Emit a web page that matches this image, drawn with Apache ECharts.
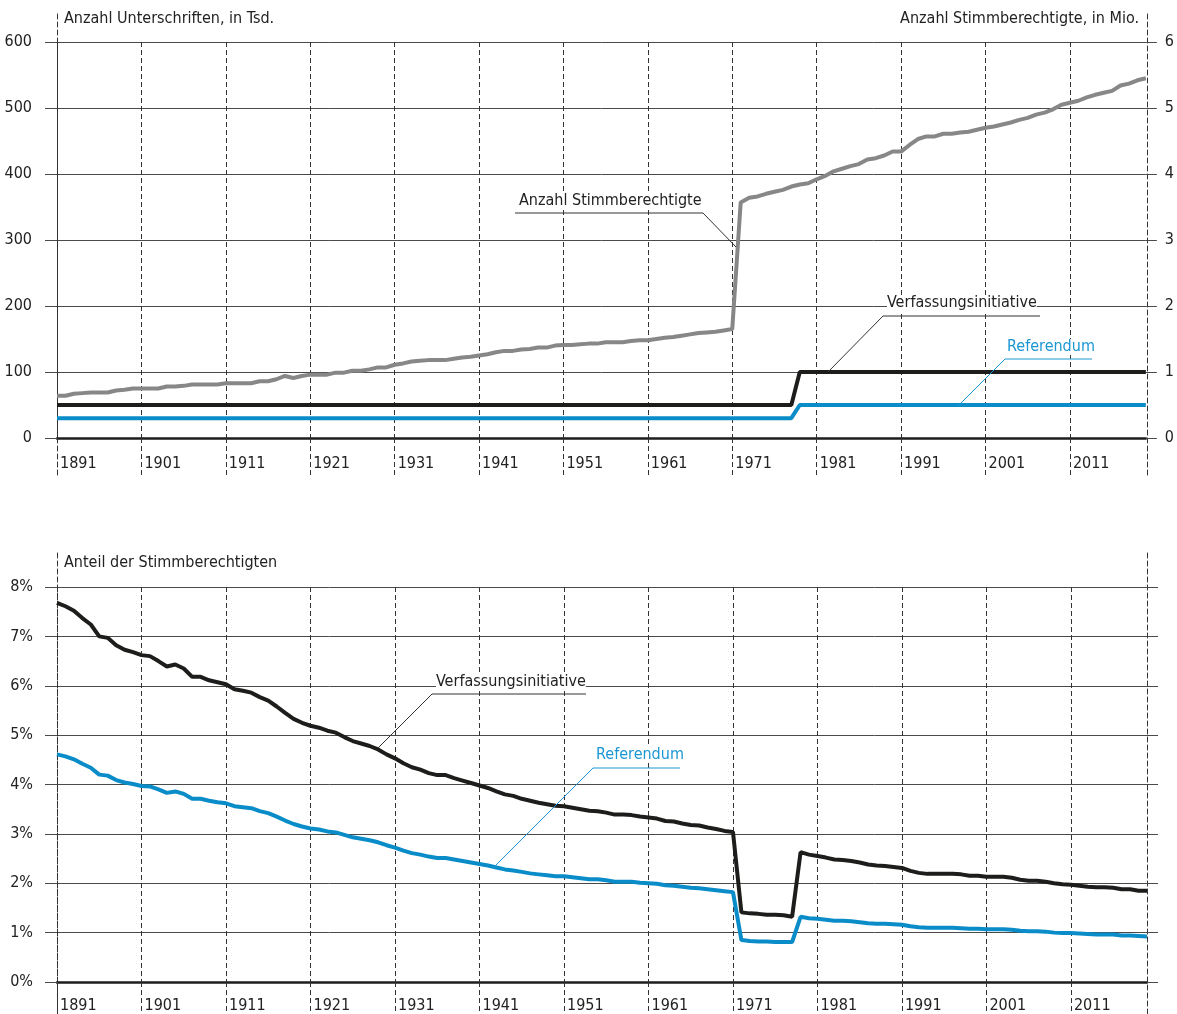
<!DOCTYPE html>
<html>
<head>
<meta charset="utf-8">
<script src="https://cdn.jsdelivr.net/npm/echarts@6/dist/echarts.min.js"></script>
<style>
html,body{margin:0;padding:0;background:#fff;}
#chart{width:1177px;height:1014px;}
</style>
</head>
<body>
<div id="chart"></div>
<script>
// ---------- DATA ----------
const years = [];
for (let y = 1891; y <= 2020; y++) years.push(String(y));

// Anzahl Stimmberechtigte, in Mio. (1891..2020)
const voters = [
  0.64,0.64,0.67,0.68,0.69,0.69,0.69,0.72,0.73,0.75,
  0.75,0.75,0.75,0.78,0.78,0.79,0.81,0.81,0.81,0.81,
  0.83,0.83,0.83,0.83,0.86,0.86,0.89,0.94,0.91,0.94,
  0.96,0.96,0.96,0.99,0.99,1.02,1.02,1.04,1.07,1.07,
  1.11,1.13,1.16,1.17,1.18,1.18,1.18,1.20,1.22,1.23,
  1.25,1.27,1.30,1.32,1.32,1.34,1.35,1.37,1.37,1.40,
  1.41,1.41,1.42,1.43,1.43,1.45,1.45,1.45,1.47,1.48,
  1.48,1.50,1.52,1.53,1.55,1.57,1.59,1.60,1.61,1.63,
  1.65,3.57,3.64,3.66,3.70,3.73,3.76,3.81,3.84,3.86,
  3.92,3.97,4.04,4.08,4.12,4.15,4.22,4.24,4.28,4.34,
  4.34,4.44,4.53,4.57,4.57,4.61,4.61,4.63,4.64,4.67,
  4.70,4.72,4.75,4.78,4.82,4.85,4.90,4.93,4.98,5.05,
  5.08,5.11,5.16,5.20,5.23,5.26,5.34,5.37,5.42,5.45
];

// Anzahl Unterschriften, in Tsd. – Verfassungsinitiative
const sigInitiative = [
  50,50,50,50,50,50,50,50,50,50,
  50,50,50,50,50,50,50,50,50,50,
  50,50,50,50,50,50,50,50,50,50,
  50,50,50,50,50,50,50,50,50,50,
  50,50,50,50,50,50,50,50,50,50,
  50,50,50,50,50,50,50,50,50,50,
  50,50,50,50,50,50,50,50,50,50,
  50,50,50,50,50,50,50,50,50,50,
  50,50,50,50,50,50,50,50,100,100,
  100,100,100,100,100,100,100,100,100,100,
  100,100,100,100,100,100,100,100,100,100,
  100,100,100,100,100,100,100,100,100,100,
  100,100,100,100,100,100,100,100,100,100
];

// Anzahl Unterschriften, in Tsd. – Referendum
const sigReferendum = [
  30,30,30,30,30,30,30,30,30,30,
  30,30,30,30,30,30,30,30,30,30,
  30,30,30,30,30,30,30,30,30,30,
  30,30,30,30,30,30,30,30,30,30,
  30,30,30,30,30,30,30,30,30,30,
  30,30,30,30,30,30,30,30,30,30,
  30,30,30,30,30,30,30,30,30,30,
  30,30,30,30,30,30,30,30,30,30,
  30,30,30,30,30,30,30,30,50,50,
  50,50,50,50,50,50,50,50,50,50,
  50,50,50,50,50,50,50,50,50,50,
  50,50,50,50,50,50,50,50,50,50,
  50,50,50,50,50,50,50,50,50,50
];

// Anteil der Stimmberechtigten (%) – Verfassungsinitiative
const shareInitiative = [
  7.68,7.61,7.52,7.37,7.24,7.00,6.97,6.82,6.73,6.68,
  6.62,6.60,6.50,6.39,6.43,6.35,6.18,6.18,6.11,6.07,
  6.03,5.93,5.90,5.86,5.77,5.70,5.58,5.45,5.33,5.25,
  5.19,5.15,5.09,5.05,4.96,4.88,4.83,4.78,4.71,4.61,
  4.53,4.43,4.35,4.30,4.23,4.19,4.19,4.13,4.08,4.03,
  3.98,3.93,3.86,3.80,3.77,3.71,3.67,3.63,3.60,3.57,
  3.56,3.53,3.50,3.47,3.46,3.43,3.39,3.39,3.38,3.35,
  3.33,3.31,3.26,3.25,3.21,3.18,3.17,3.13,3.10,3.06,
  3.04,1.41,1.39,1.38,1.36,1.36,1.35,1.32,2.63,2.58,
  2.55,2.52,2.48,2.47,2.45,2.42,2.38,2.36,2.35,2.33,
  2.31,2.25,2.21,2.19,2.19,2.19,2.19,2.18,2.15,2.15,
  2.13,2.13,2.13,2.11,2.07,2.05,2.05,2.03,2.00,1.98,
  1.97,1.95,1.93,1.92,1.92,1.91,1.88,1.88,1.85,1.85
];

// Anteil der Stimmberechtigten (%) – Referendum
const shareReferendum = [
  4.61,4.57,4.51,4.42,4.34,4.20,4.18,4.09,4.04,4.01,
  3.97,3.96,3.90,3.83,3.86,3.81,3.71,3.71,3.67,3.64,
  3.62,3.56,3.54,3.52,3.46,3.42,3.35,3.27,3.20,3.15,
  3.11,3.09,3.05,3.03,2.98,2.93,2.90,2.87,2.83,2.77,
  2.72,2.66,2.61,2.58,2.54,2.51,2.51,2.48,2.45,2.42,
  2.39,2.36,2.32,2.28,2.26,2.23,2.20,2.18,2.16,2.14,
  2.14,2.12,2.10,2.08,2.08,2.06,2.03,2.03,2.03,2.01,
  2.00,1.99,1.96,1.95,1.93,1.91,1.90,1.88,1.86,1.84,
  1.82,0.85,0.83,0.82,0.82,0.81,0.81,0.81,1.32,1.29,
  1.28,1.26,1.24,1.24,1.23,1.21,1.19,1.18,1.18,1.17,
  1.16,1.13,1.11,1.10,1.10,1.10,1.10,1.09,1.08,1.08,
  1.07,1.07,1.07,1.06,1.04,1.03,1.03,1.02,1.00,0.99,
  0.99,0.98,0.97,0.96,0.96,0.96,0.94,0.94,0.93,0.92
];

// ---------- STYLE ----------
const FONT = "'Liberation Sans Narrow','DejaVu Sans Condensed','Roboto Condensed','Liberation Sans',sans-serif";
const FS = 16;
const TXT = '#222';
const GRID_C = '#4a4a4a';
const DASH = [5, 3];
const DASH_C = '#333';
const BLACK = '#1d1d1b';
const GRAY = '#878787';
const BLUE = '#0a8cc8';
const BLUE_TXT = '#1a97d3';

function xCat(gridIndex, margin, tickLen) {
  return {
    gridIndex: gridIndex, type: 'category', data: years, boundaryGap: false,
    axisLine: { show: true, lineStyle: { color: BLACK, width: 2.5 } },
    axisTick: { show: true, interval: 9, length: tickLen, lineStyle: { color: DASH_C, type: DASH, width: 1 } },
    axisLabel: { show: true, interval: 9, align: 'left', margin: margin, padding: [0, 0, 0, 3],
      fontSize: FS, fontFamily: FONT, color: TXT },
    splitLine: { show: true, interval: 9, lineStyle: { color: DASH_C, type: DASH, width: 1 } }
  };
}
function edgeY(gridIndex, pos) {
  return {
    gridIndex: gridIndex, type: 'value', position: pos, min: 0, max: 1,
    axisLine: { show: true, onZero: false, lineStyle: { color: DASH_C, type: DASH, width: 1 } },
    axisTick: { show: false }, axisLabel: { show: false }, splitLine: { show: false }
  };
}
function hiddenX(gridIndex) {
  return { gridIndex: gridIndex, type: 'value', min: 0, max: 1, show: false };
}

const option = {
  animation: false,
  backgroundColor: '#fff',
  textStyle: { fontFamily: FONT },
  grid: [
    { left: 57, right: 30, top: 42, height: 396 },
    { left: 57, right: 30, top: 587, height: 398 },
    { left: 57, right: 30, top: 12, height: 463 },
    { left: 57, right: 30, top: 553, height: 461 }
  ],
  xAxis: [
    xCat(0, 18, 37),
    xCat(1, 16, 29),
    hiddenX(2),
    hiddenX(3)
  ],
  yAxis: [
    { gridIndex: 0, type: 'value', position: 'left', min: 0, max: 600, interval: 100,
      axisLine: { show: false },
      axisTick: { show: true, length: 12, lineStyle: { color: GRID_C, width: 1 } },
      axisLabel: { margin: 25, fontSize: FS, fontFamily: FONT, color: TXT },
      splitLine: { show: true, lineStyle: { color: GRID_C, width: 1 } } },
    { gridIndex: 0, type: 'value', position: 'right', min: 0, max: 6, interval: 1,
      axisLine: { show: false },
      axisTick: { show: true, length: 11, lineStyle: { color: GRID_C, width: 1 } },
      axisLabel: { margin: 19, fontSize: FS, fontFamily: FONT, color: TXT },
      splitLine: { show: false } },
    { gridIndex: 1, type: 'value', position: 'left', min: 0, max: 8, interval: 1,
      axisLine: { show: false },
      axisTick: { show: true, length: 12, lineStyle: { color: GRID_C, width: 1 } },
      axisLabel: { margin: 24, fontSize: FS, fontFamily: FONT, color: TXT, formatter: '{value}%' },
      splitLine: { show: true, lineStyle: { color: GRID_C, width: 1 } } },
    { gridIndex: 1, type: 'value', position: 'right', min: 0, max: 8, interval: 1,
      axisLine: { show: false },
      axisTick: { show: true, length: 11, lineStyle: { color: GRID_C, width: 1 } },
      axisLabel: { show: false },
      splitLine: { show: false } },
    edgeY(2, 'left'), edgeY(2, 'right'),
    edgeY(3, 'left'), edgeY(3, 'right')
  ],
  series: [
    { name: 'Anzahl Stimmberechtigte', type: 'line', xAxisIndex: 0, yAxisIndex: 1,
      data: voters, symbol: 'none', lineStyle: { color: GRAY, width: 4 }, z: 3 },
    { name: 'Referendum', type: 'line', xAxisIndex: 0, yAxisIndex: 0,
      data: sigReferendum, symbol: 'none', lineStyle: { color: BLUE, width: 4 }, z: 4 },
    { name: 'Verfassungsinitiative', type: 'line', xAxisIndex: 0, yAxisIndex: 0,
      data: sigInitiative, symbol: 'none', lineStyle: { color: BLACK, width: 4 }, z: 5 },
    { name: 'Referendum %', type: 'line', xAxisIndex: 1, yAxisIndex: 2,
      data: shareReferendum, symbol: 'none', lineStyle: { color: BLUE, width: 4 }, z: 4 },
    { name: 'Verfassungsinitiative %', type: 'line', xAxisIndex: 1, yAxisIndex: 2,
      data: shareInitiative, symbol: 'none', lineStyle: { color: BLACK, width: 4 }, z: 5 }
  ],
  graphic: [
    { type: 'text', x: 64, y: 19, style: { text: 'Anzahl Unterschriften, in Tsd.', fontSize: FS, fontFamily: FONT, fill: TXT, align: 'left', verticalAlign: 'middle' } },
    { type: 'text', x: 1139, y: 19, style: { text: 'Anzahl Stimmberechtigte, in Mio.', fontSize: FS, fontFamily: FONT, fill: TXT, align: 'right', verticalAlign: 'middle' } },
    { type: 'text', x: 64, y: 563, style: { text: 'Anteil der Stimmberechtigten', fontSize: FS, fontFamily: FONT, fill: TXT, align: 'left', verticalAlign: 'middle' } },

    { type: 'text', x: 519, y: 201, z: 10, style: { text: 'Anzahl Stimmberechtigte', fontSize: FS, fontFamily: FONT, fill: TXT, align: 'left', verticalAlign: 'middle', backgroundColor: '#fff' } },
    { type: 'polyline', z: 10, shape: { points: [[515, 213], [703, 213], [736, 247]] }, style: { stroke: '#333', lineWidth: 1, fill: null } },

    { type: 'text', x: 887, y: 303, z: 10, style: { text: 'Verfassungsinitiative', fontSize: FS, fontFamily: FONT, fill: TXT, align: 'left', verticalAlign: 'middle', backgroundColor: '#fff' } },
    { type: 'polyline', z: 10, shape: { points: [[1040, 316], [883, 316], [828, 372]] }, style: { stroke: '#333', lineWidth: 1, fill: null } },

    { type: 'text', x: 1007, y: 347, z: 10, style: { text: 'Referendum', fontSize: FS, fontFamily: FONT, fill: BLUE_TXT, align: 'left', verticalAlign: 'middle', backgroundColor: '#fff' } },
    { type: 'polyline', z: 10, shape: { points: [[1092, 359], [1005, 359], [958, 406]] }, style: { stroke: BLUE_TXT, lineWidth: 1, fill: null } },

    { type: 'text', x: 436, y: 682, z: 10, style: { text: 'Verfassungsinitiative', fontSize: FS, fontFamily: FONT, fill: TXT, align: 'left', verticalAlign: 'middle', backgroundColor: '#fff' } },
    { type: 'polyline', z: 10, shape: { points: [[586, 694], [432, 694], [378, 748]] }, style: { stroke: '#333', lineWidth: 1, fill: null } },

    { type: 'text', x: 596, y: 755, z: 10, style: { text: 'Referendum', fontSize: FS, fontFamily: FONT, fill: BLUE_TXT, align: 'left', verticalAlign: 'middle', backgroundColor: '#fff' } },
    { type: 'polyline', z: 10, shape: { points: [[680, 768], [593, 768], [493, 868]] }, style: { stroke: BLUE_TXT, lineWidth: 1, fill: null } }
  ]
};

const chart = echarts.init(document.getElementById('chart'), null, { renderer: 'canvas' });
chart.setOption(option);
</script>
</body>
</html>
